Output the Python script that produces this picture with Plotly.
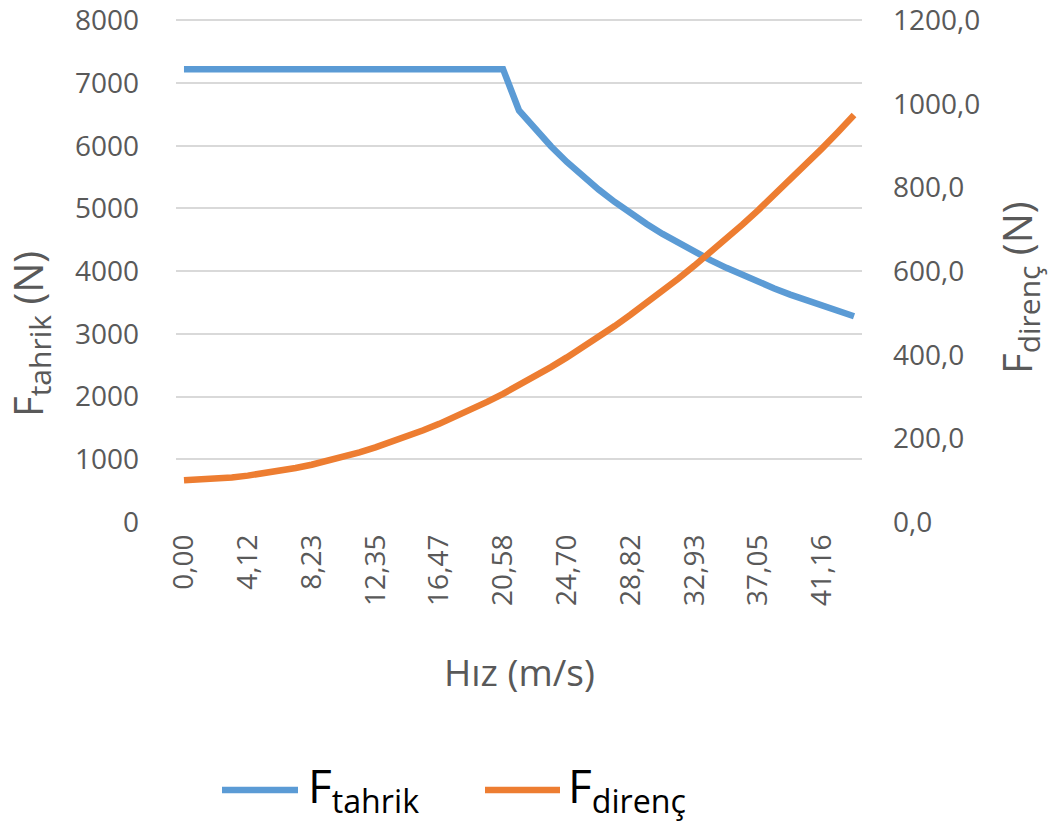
import plotly.graph_objects as go

# Speed categories (m/s), as printed on the category axis
hiz = ["0,00", "1,03", "2,06", "3,09", "4,12", "5,15", "6,17", "7,20", "8,23", "9,26",
       "10,29", "11,32", "12,35", "13,38", "14,41", "15,44", "16,47", "17,49", "18,52", "19,55",
       "20,58", "21,61", "22,64", "23,67", "24,70", "25,73", "26,76", "27,79", "28,82", "29,84",
       "30,87", "31,90", "32,93", "33,96", "34,99", "36,02", "37,05", "38,08", "39,11", "40,14",
       "41,16", "42,19", "43,22"]

# Traction force (N), left axis
f_tahrik = [7220, 7220, 7220, 7220, 7220, 7220, 7220, 7220, 7220, 7220,
            7220, 7220, 7220, 7220, 7220, 7220, 7220, 7220, 7220, 7220,
            7220, 6562, 6263, 5991, 5741, 5511, 5299, 5103, 4920, 4752,
            4593, 4445, 4306, 4175, 4053, 3937, 3827, 3724, 3626, 3533,
            3445, 3361, 3281]

# Resistance force (N), right axis
f_direnc = [100.0, 101.3, 103.5, 106.7, 110.9, 116.0, 122.1, 129.1, 137.0, 145.9,
            155.8, 166.6, 178.4, 191.1, 204.8, 219.4, 234.8, 251.3, 268.8, 287.3,
            306.6, 327.0, 348.3, 370.5, 393.7, 417.8, 442.9, 468.7, 495.9, 523.7,
            552.6, 582.4, 613.2, 645.0, 677.7, 711.3, 745.9, 781.6, 817.7, 855.2,
            893.6, 933.0, 973.3]

# Tick labels shown on each axis
x_ticks = hiz[::4]
y_left_ticks = [0, 1000, 2000, 3000, 4000, 5000, 6000, 7000, 8000]
y_right_ticks = [0, 200, 400, 600, 800, 1000, 1200]
y_right_text = ["0,0", "200,0", "400,0", "600,0", "800,0", "1000,0", "1200,0"]

BLUE = "#5B9BD5"
ORANGE = "#ED7D31"
GREY_TEXT = "#595959"
GRID = "#D9D9D9"
FONT = "Open Sans"

# Axis ranges leave a little headroom above the top tick so its gridline and label are kept
Y_TOP = 8100
Y2_TOP = 1215
PLOT_BOTTOM_PX = 522          # pixel row of the 0 line
PX_PER_1000 = 62.75           # vertical pixels per 1000 N on the left axis
top_margin = round(PLOT_BOTTOM_PX - PX_PER_1000 * Y_TOP / 1000)

fig = go.Figure()
fig.add_trace(go.Scatter(x=hiz, y=f_tahrik, mode="lines", name="F<sub>tahrik</sub>",
                         line=dict(color=BLUE, width=6.5), yaxis="y"))
fig.add_trace(go.Scatter(x=hiz, y=f_direnc, mode="lines", name="F<sub>direnç</sub>",
                         line=dict(color=ORANGE, width=6.5), yaxis="y2"))

fig.update_layout(
    width=1051, height=821,
    margin=dict(l=176, r=189, t=top_margin, b=821 - PLOT_BOTTOM_PX),
    paper_bgcolor="white", plot_bgcolor="white",
    showlegend=False,
    font=dict(family=FONT, size=28, color=GREY_TEXT),
    xaxis=dict(type="category", categoryorder="array", categoryarray=hiz,
               range=[-0.5, len(hiz) - 0.5], automargin=False,
               tickmode="array", tickvals=x_ticks, ticktext=x_ticks,
               tickangle=-90, showgrid=False, zeroline=False,
               showline=False, ticks="", ticklabelstandoff=6,
               tickfont=dict(family=FONT, size=28, color=GREY_TEXT)),
    yaxis=dict(range=[0, Y_TOP], tickmode="array", tickvals=y_left_ticks,
               automargin=False,
               showgrid=True, gridcolor=GRID, gridwidth=2,
               zeroline=False, showline=False, ticks="",
               ticklabelstandoff=36,
               tickfont=dict(family=FONT, size=28, color=GREY_TEXT)),
    yaxis2=dict(range=[0, Y2_TOP], overlaying="y", side="right", automargin=False,
                tickmode="array", tickvals=y_right_ticks, ticktext=y_right_text,
                showgrid=False, zeroline=False, showline=False, ticks="",
                ticklabelstandoff=30,
                tickfont=dict(family=FONT, size=28, color=GREY_TEXT)),
)

plot_h = PLOT_BOTTOM_PX - top_margin


def px_to_paper(px, py):
    return (px - 176) / 686, (PLOT_BOTTOM_PX - py) / plot_h


SUB = "<sub><span style='font-size:30px'>{}</span></sub>"

annotations = []
# Axis titles
x, y = px_to_paper(519, 671)
annotations.append(dict(text="Hız (m/s)", x=x, y=y, xref="paper", yref="paper",
                        xanchor="center", yanchor="middle", showarrow=False,
                        font=dict(family=FONT, size=37, color=GREY_TEXT)))
x, y = px_to_paper(30, 334)
annotations.append(dict(text="F" + SUB.format("tahrik") + " (N)", x=x, y=y,
                        xref="paper", yref="paper", xanchor="center", yanchor="middle",
                        textangle=-90, showarrow=False,
                        font=dict(family=FONT, size=40, color=GREY_TEXT)))
x, y = px_to_paper(1019, 288)
annotations.append(dict(text="F" + SUB.format("direnç") + " (N)", x=x, y=y,
                        xref="paper", yref="paper", xanchor="center", yanchor="middle",
                        textangle=-90, showarrow=False,
                        font=dict(family=FONT, size=40, color=GREY_TEXT)))

# Legend drawn below the plot
shapes = []
legend_items = [(222, 298, 306, "F<sub>tahrik</sub>", BLUE),
                (485, 560, 566, "F<sub>direnç</sub>", ORANGE)]
for x0, x1, xt, label, color in legend_items:
    a0, b0 = px_to_paper(x0, 790)
    a1, _ = px_to_paper(x1, 790)
    shapes.append(dict(type="line", xref="paper", yref="paper", x0=a0, x1=a1, y0=b0, y1=b0,
                       line=dict(color=color, width=6.5)))
    at, bt = px_to_paper(xt, 788)
    annotations.append(dict(text=label, x=at, y=bt, xref="paper", yref="paper",
                            xanchor="left", yanchor="middle", showarrow=False,
                            font=dict(family=FONT, size=46, color="#000000")))

fig.update_layout(annotations=annotations, shapes=shapes)

fig.write_html("out.html")
